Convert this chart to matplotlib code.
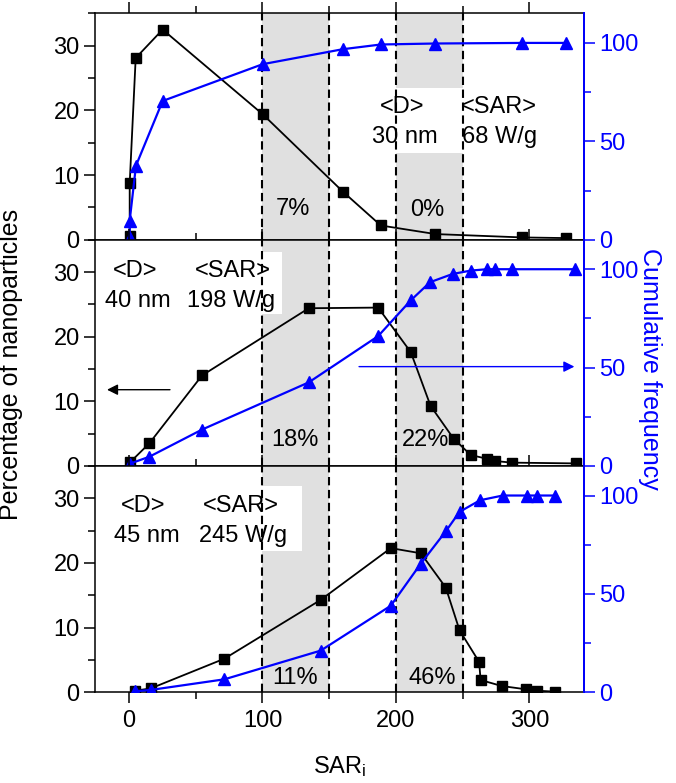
import matplotlib
matplotlib.use("Agg")
import matplotlib.pyplot as plt
from matplotlib.patches import Rectangle
from matplotlib.ticker import MultipleLocator

plt.rcParams['font.family'] = ['Liberation Sans', 'DejaVu Sans']
plt.rcParams['mathtext.default'] = 'regular'

BLUE = '#0000ff'
GREY = '#e0e0e0'
FS = 17
LFS = 18

# ---- data (panel 1: <D>=30 nm) ----
p1_sq_x = [0.5, 0.5, 5, 25.2, 100.2, 160.2, 188.7, 229.7, 294.9, 327.3]
p1_sq_y = [0.6, 8.7, 28.1, 32.5, 19.4, 7.45, 2.2, 0.87, 0.35, 0.25]
p1_tr_x = [0.5, 0.5, 5.2, 25.2, 100.2, 160.2, 188.7, 229.7, 294.9, 327.3]
p1_tr_y = [0.9, 9.7, 37.6, 70.5, 89.2, 96.8, 99.2, 99.7, 100, 100]

# ---- panel 2: <D>=40 nm ----
p2_sq_x = [0.75, 15.2, 54.7, 134.7, 186.7, 211.2, 226.0, 243.2, 256.1, 268.6, 274.4, 286.9, 335.0]
p2_sq_y = [0.57, 3.5, 14.0, 24.4, 24.5, 17.6, 9.3, 4.25, 1.7, 1.1, 0.77, 0.52, 0.4]
p2_tr_x = [0.75, 15.2, 54.7, 134.7, 186.7, 211.2, 225.6, 242.6, 256.1, 268.1, 274.4, 286.9, 334.3]
p2_tr_y = [1.2, 4.7, 18.5, 42.5, 66.0, 84.2, 93.4, 97.6, 99.3, 100, 100, 100, 100]

# ---- panel 3: <D>=45 nm ----
p3_sq_x = [4.5, 16.3, 71.5, 143.7, 196.2, 218.7, 237.4, 247.7, 262.4, 263.5, 279.4, 297.6, 306.0, 319.3]
p3_sq_y = [0.25, 0.6, 5.2, 14.3, 22.3, 21.5, 16.2, 9.6, 4.7, 1.9, 0.97, 0.46, 0.25, 0.1]
p3_tr_x = [4.5, 16.3, 71.5, 143.7, 196.2, 218.7, 237.4, 247.7, 263.1, 280.1, 298.1, 306.0, 319.3]
p3_tr_y = [0.5, 1.2, 6.6, 21.2, 44.0, 65.4, 81.8, 91.7, 97.6, 100, 100, 100, 100]

bands = [(100, 150), (200, 250)]
percent_labels = [("7%", "0%"), ("18%", "22%"), ("11%", "46%")]
d_labels = ["30 nm", "40 nm", "45 nm"]
sar_labels = ["68 W/g", "198 W/g", "245 W/g"]

xticks = [0, 100, 200, 300]
left_ticks = [0, 10, 20, 30]
right_ticks = [0, 50, 100]

fig = plt.figure(figsize=(6.76, 7.83), dpi=100)
L, W = 95 / 676, (584 - 95) / 676
H = 226.3 / 783
B0 = 1 - 692.3 / 783

panels = [
    (p1_sq_x, p1_sq_y, p1_tr_x, p1_tr_y),
    (p2_sq_x, p2_sq_y, p2_tr_x, p2_tr_y),
    (p3_sq_x, p3_sq_y, p3_tr_x, p3_tr_y),
]

# text box / label placement (data coords, left axis)
boxes = [(185, 13.4, 125, 10.1), (-30, 23.5, 144.7, 9.6), (-30, 21.9, 159.5, 10.0)]
d_pos = [((205, 20.6), (207, 15.9)), ((4.5, 30.1), (6.4, 25.5)), ((10.5, 28.8), (13, 24.2))]
sar_pos = [((277.5, 20.6), (278, 15.9)), ((77.6, 30.1), (76.3, 25.5)), ((83.8, 28.8), (85.2, 24.2))]
pct_pos = [((122.7, 4.8), (223.2, 4.6)), ((124.4, 4.0), (221.9, 4.0)), ((124.4, 2.2), (226.9, 2.2))]

for i, (sx, sy, tx, ty) in enumerate(panels):
    ax = fig.add_axes([L, B0 + (2 - i) * H, W, H])
    ax.set_xlim(-25.5, 341)
    ax.set_ylim(0, 35)
    for a, b in bands:
        ax.axvspan(a, b, color=GREY, lw=0, zorder=0.5)
    bx, by, bw, bh = boxes[i]
    ax.add_patch(Rectangle((bx, by), bw, bh, facecolor='white', edgecolor='none', zorder=0.8))
    for xv in (100, 150, 200, 250):
        ax.axvline(xv, color='black', ls=(0, (4, 2.2)), lw=1.5, zorder=1)
    ax.plot(sx, sy, color='black', lw=1.3, marker='s', ms=7.2, mfc='black', mec='black', zorder=4)

    ax.set_xticks(xticks)
    ax.xaxis.set_minor_locator(MultipleLocator(50))
    ax.set_yticks(left_ticks)
    ax.yaxis.set_minor_locator(MultipleLocator(5))
    ax.tick_params(axis='x', which='both', direction='out', top=True, bottom=True,
                   labelbottom=(i == 2), labelsize=FS, pad=5)
    ax.tick_params(axis='x', which='major', length=8, width=1.1)
    ax.tick_params(axis='x', which='minor', length=5, width=1.1)
    ax.tick_params(axis='y', which='major', direction='out', length=8, width=1.1, labelsize=FS, pad=3)
    ax.tick_params(axis='y', which='minor', direction='out', length=5, width=1.1)
    for s in ax.spines.values():
        s.set_linewidth(1.1)

    ax2 = ax.twinx()
    ax2.set_ylim(0, 115)
    ax2.plot(tx, ty, color=BLUE, lw=1.6, marker='^', ms=8.5, mfc=BLUE, mec=BLUE, zorder=3)
    ax2.set_yticks(right_ticks)
    ax2.yaxis.set_minor_locator(MultipleLocator(25))
    ax2.tick_params(axis='y', which='major', colors=BLUE, direction='out', length=8, width=1.1,
                    labelsize=FS, pad=3)
    ax2.tick_params(axis='y', which='minor', colors=BLUE, direction='out', length=5, width=1.1)
    ax2.spines['right'].set_color(BLUE)
    ax2.spines['right'].set_linewidth(1.4)
    for k in ('top', 'bottom', 'left'):
        ax2.spines[k].set_visible(False)

    (dx1, dy1), (dx2, dy2) = d_pos[i]
    (sx1, sy1), (sx2, sy2) = sar_pos[i]
    for (x0, y0), s in (((dx1, dy1), "<D>"), ((dx2, dy2), d_labels[i]),
                        ((sx1, sy1), "<SAR>"), ((sx2, sy2), sar_labels[i]),
                        (pct_pos[i][0], percent_labels[i][0]), (pct_pos[i][1], percent_labels[i][1])):
        ax2.text(x0, y0 * 115 / 35, s, ha='center', va='center', fontsize=FS, zorder=5)

    if i == 1:
        ax.annotate("", xy=(-16.5, 11.8), xytext=(30.7, 11.8),
                    arrowprops=dict(arrowstyle='-|>', color='black', lw=1.0,
                                    mutation_scale=16, shrinkA=0, shrinkB=0), zorder=5)
        ax2.annotate("", xy=(333.8, 50.5), xytext=(172.4, 50.5),
                     arrowprops=dict(arrowstyle='-|>', color=BLUE, lw=1.0,
                                     mutation_scale=16, shrinkA=0, shrinkB=0), zorder=5)
        ax2.set_ylabel("Cumulative frequency", color=BLUE, fontsize=LFS, rotation=270)
        ax2.yaxis.set_label_coords(1.16, 0.43)
        ax.set_ylabel("Percentage of nanoparticles", fontsize=LFS)
        ax.yaxis.set_label_coords(-0.148, 0.45)
    if i == 2:
        ax.set_xlabel("SAR$_{i}$", fontsize=FS, labelpad=16)

fig.patch.set_facecolor('white')
fig.savefig("out.png", dpi=100, facecolor='white')
